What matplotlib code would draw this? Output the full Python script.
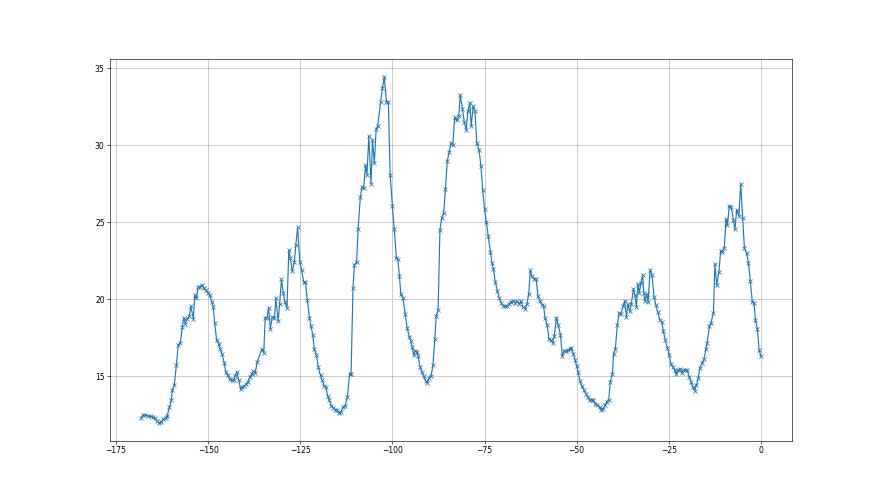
import matplotlib
matplotlib.use("Agg")
import matplotlib.pyplot as plt

hours = [
    -168.2, -167.6, -167.0, -166.2, -165.6, -165.0, -164.5, -163.8, -163.3, -162.7,
    -162.1, -161.5, -161.1, -160.5, -160.0, -159.7, -159.2, -158.6, -158.1, -157.5,
    -157.0, -156.6, -156.2, -155.6, -155.1, -154.7, -154.0, -153.6, -153.2, -152.7,
    -152.1, -151.6, -151.1, -150.6, -150.0, -149.5, -149.0, -148.6, -148.2, -147.7,
    -147.1, -146.7, -146.2, -145.6, -145.2, -144.7, -144.1, -143.6, -143.0, -142.7,
    -142.2, -141.7, -141.2, -140.8, -140.3, -139.7, -139.2, -138.7, -138.1, -137.7,
    -137.2, -136.7,
    -135.4, -134.9, -134.5, -134.0, -133.6, -133.1, -132.6, -132.0, -131.6, -131.0,
    -130.6, -130.1, -129.6, -129.1, -128.6, -128.1, -127.7, -127.2, -126.6, -126.2,
    -125.7, -125.1, -124.6, -124.1, -123.6, -123.1, -122.5, -122.1, -121.6, -121.2,
    -120.6, -120.1, -119.5, -119.0, -118.5, -118.0, -117.6, -117.1, -116.6, -116.0,
    -115.5, -115.0, -114.6, -114.0, -113.4, -112.8, -112.2, -111.6, -111.2, -110.7,
    -110.3, -109.7, -109.3, -108.7, -108.3, -107.8, -107.3, -106.9, -106.4, -105.8,
    -105.4, -104.9, -104.4, -104.0,
    -103.2, -102.7, -102.2, -101.6, -101.1, -100.6, -100.0, -99.5, -98.9, -98.5,
    -98.1, -97.7, -97.1, -96.5, -96.0, -95.4, -95.0, -94.6, -94.2, -93.8,
    -93.3, -93.0, -92.5, -92.0, -91.5, -91.0, -90.5, -90.1, -89.5, -89.0,
    -88.5, -88.1, -87.6, -87.1, -86.6, -86.1, -85.6, -85.1, -84.6, -84.1,
    -83.6, -83.1, -82.6, -82.0, -81.6, -81.0, -80.5, -80.0, -79.5, -79.0,
    -78.6, -78.1, -77.6, -77.1, -76.5, -76.0, -75.5, -75.0, -74.5, -74.0,
    -73.4, -73.0, -72.6, -72.1, -71.5, -71.0, -70.5, -70.0, -69.5, -68.9,
    -68.4, -67.8, -67.3, -66.7, -66.2, -65.6, -65.1, -64.6, -64.0, -63.5,
    -63.0, -62.6, -62.1, -61.6, -61.0, -60.5, -60.0, -59.4, -59.0, -58.6,
    -58.0, -57.5, -57.0, -56.5, -56.1, -55.5, -55.0, -54.4, -53.9, -53.4,
    -52.9, -52.4, -51.9, -51.5, -50.9, -50.4, -50.0, -49.6, -49.1, -48.6,
    -48.0, -47.5, -47.0, -46.5, -45.9, -45.5, -44.9, -44.4, -43.8, -43.3,
    -42.8, -42.3, -41.8, -41.3, -40.9, -40.3, -40.0, -39.5, -39.0, -38.5,
    -38.0, -37.4, -37.0, -36.5, -36.1, -35.6, -35.2, -34.6, -34.2, -33.8,
    -33.4, -33.0, -32.6, -32.1, -31.8, -31.5, -31.0, -30.6, -30.1, -29.6,
    -29.0, -28.5, -28.0, -27.4, -26.9, -26.5, -26.0, -25.4, -24.9, -24.4,
    -23.9, -23.4, -23.0, -22.5, -22.0, -21.5, -21.1, -20.5, -20.0, -19.5,
    -19.0, -18.5, -18.0, -17.5, -17.0, -16.6, -16.0, -15.5, -14.9, -14.6,
    -14.0, -13.6, -12.9, -12.5, -12.0, -11.4, -10.95, -10.5, -9.95, -9.5,
    -9.1, -8.6, -8.1, -7.5, -7.05, -6.6, -6.0, -5.5, -4.97, -4.5,
    -3.9, -3.4, -2.9, -2.35, -1.9, -1.5, -0.99, -0.5, 0.0,
]

values = [
    12.31, 12.5, 12.5, 12.44, 12.4, 12.35, 12.27, 12.09, 11.96, 12.05,
    12.22, 12.31, 12.44, 13.0, 13.44, 14.09, 14.41, 15.72, 17.04, 17.2,
    18.2, 18.82, 18.43, 18.76, 18.9, 19.56, 18.76, 20.28, 20.06, 20.78,
    20.82, 20.95, 20.71, 20.6, 20.43, 20.26, 19.84, 19.52, 18.47, 17.39,
    17.08, 16.8, 16.43, 15.87, 15.28, 15.07, 14.81, 14.74, 14.78, 15.04,
    15.28, 14.78, 14.18, 14.31, 14.35, 14.48, 14.65, 14.96, 15.17, 15.35,
    15.22, 15.93,
    16.76, 16.54, 18.82, 18.82, 19.45, 18.1, 18.86, 18.82, 20.06, 18.58,
    19.67, 21.3, 20.39, 19.8, 19.45, 23.21, 22.71, 21.84, 22.4, 23.53,
    24.68, 22.4, 21.9, 21.14, 21.14, 19.99, 18.82, 18.28, 17.71, 16.8,
    16.37, 15.61, 15.06, 14.74, 14.37, 14.3, 13.76, 13.44, 13.11, 12.94,
    12.83, 12.83, 12.63, 12.68, 13.0, 13.11, 13.65, 15.17, 15.17, 20.71,
    22.23, 22.45, 24.58, 26.62, 27.27, 27.22, 28.7, 28.09, 30.59, 27.51,
    30.37, 28.83, 31.07, 31.24,
    32.81, 33.7, 34.46, 32.81, 32.81, 28.09, 26.07, 24.57, 22.66, 22.6,
    21.52, 20.32, 20.06, 19.03, 18.16, 17.56, 17.3, 16.91, 16.37, 16.67,
    16.6, 16.3, 15.61, 15.3, 15.0, 14.72, 14.57, 14.9, 15.03, 15.72,
    17.4, 18.92, 19.32, 24.51, 25.3, 25.6, 27.17, 29.0, 29.55, 30.16,
    30.0, 31.83, 31.62, 31.89, 33.28, 32.38, 31.53, 31.0, 32.22, 32.76,
    31.24, 32.55, 32.22, 30.15, 29.72, 28.69, 27.12, 25.87, 25.02, 24.1,
    23.07, 22.39, 22.0, 21.15, 20.52, 20.08, 19.77, 19.6, 19.55, 19.54,
    19.68, 19.86, 19.91, 19.78, 19.89, 19.73, 19.89, 19.52, 19.39, 19.69,
    20.37, 21.88, 21.49, 21.34, 21.33, 20.2, 19.9, 19.65, 19.6, 18.82,
    18.32, 17.41, 17.34, 17.17, 17.6, 18.82, 18.32, 17.71, 16.32, 16.65,
    16.65, 16.69, 16.78, 16.87, 16.48, 16.04, 15.65, 15.28, 14.7, 14.35,
    14.09, 13.87, 13.65, 13.44, 13.48, 13.44, 13.22, 13.13, 13.0, 12.83,
    12.89, 13.13, 13.35, 13.5, 14.63, 15.17, 16.45, 16.8, 18.32, 19.1,
    19.06, 19.57, 19.9, 18.88, 19.69, 19.22, 19.69, 20.68, 20.28, 19.5,
    20.98, 20.43, 21.04, 21.58, 20.39, 19.91, 20.34, 19.84, 21.91, 21.58,
    20.17, 19.62, 19.19, 18.65, 18.54, 17.95, 17.39, 16.87, 16.37, 15.78,
    15.61, 15.43, 15.13, 15.39, 15.5, 15.22, 15.39, 15.43, 15.39, 14.99,
    14.65, 14.3, 14.06, 14.45, 14.9, 15.55, 15.85, 16.1, 16.8, 17.2,
    18.25, 18.47, 19.13, 22.3, 20.93, 21.8, 23.14, 23.1, 23.36, 25.21,
    24.84, 26.07, 26.03, 25.16, 24.55, 25.81, 25.42, 27.51, 25.27, 23.32,
    22.99, 22.38, 21.19, 19.84, 19.78, 18.65, 18.1, 16.69, 16.3,
]

fig, ax = plt.subplots(figsize=(16, 9), dpi=55)
ax.plot(hours, values, marker="x", color="#1f77b4", linewidth=1.5)
ax.grid(True)
fig.savefig("out.png", dpi=55)
